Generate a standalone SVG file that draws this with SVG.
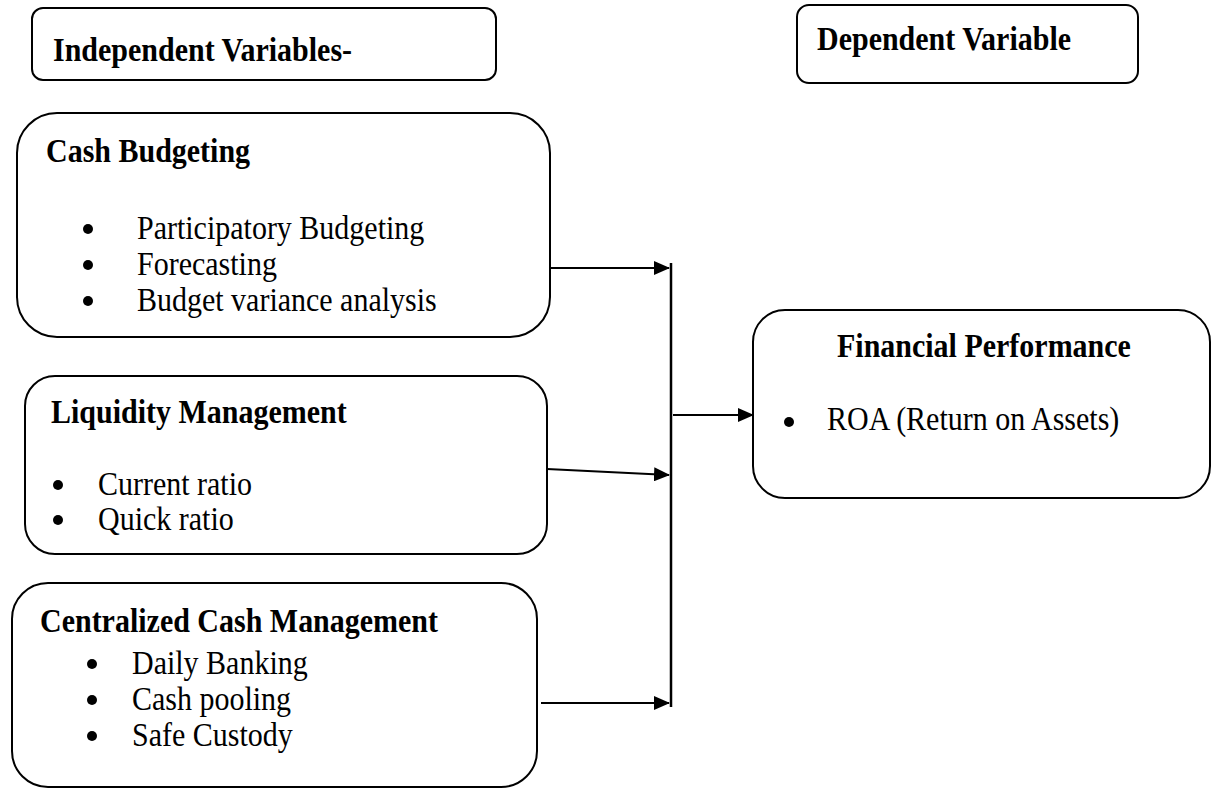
<svg xmlns="http://www.w3.org/2000/svg" width="1212" height="789" viewBox="0 0 1212 789">
<style>
.box{fill:#fff;stroke:#000;stroke-width:2}
.t{font-family:"Liberation Serif","Times New Roman",serif;font-size:30px;fill:#000}
.b{font-weight:bold}
.conn{stroke:#000;stroke-width:2.2;fill:none}
.dot{fill:#000}
</style>
<defs>
<marker id="arr" markerWidth="16" markerHeight="14" refX="15" refY="7" orient="auto" markerUnits="userSpaceOnUse">
<path d="M0,0 L16,7 L0,14 Z" fill="#000"/>
</marker>
</defs>
<rect width="1212" height="789" fill="#fff"/>
<g id="independent-header">
<rect class="box" x="32" y="8" width="464" height="72" rx="11"/>
<text class="t b" transform="translate(53,61) scale(1,1.09)">Independent Variables-</text>
</g>
<g id="dependent-header">
<rect class="box" x="797" y="5" width="341" height="78" rx="12"/>
<text class="t b" transform="translate(817,50) scale(1,1.09)">Dependent Variable</text>
</g>
<g id="cash-budgeting">
<rect class="box" x="17" y="113" width="533" height="224" rx="40"/>
<text class="t b" transform="translate(46,162) scale(1,1.09)">Cash Budgeting</text>
<circle class="dot" cx="88" cy="229" r="5"/>
<circle class="dot" cx="88" cy="265" r="5"/>
<circle class="dot" cx="88" cy="301" r="5"/>
<text class="t" transform="translate(137,239) scale(1,1.09)">Participatory Budgeting</text>
<text class="t" transform="translate(137,275) scale(1,1.09)">Forecasting</text>
<text class="t" transform="translate(137,311) scale(1,1.09)">Budget variance analysis</text>
</g>
<g id="liquidity-management">
<rect class="box" x="25" y="376" width="522" height="178" rx="30"/>
<text class="t b" transform="translate(51,423) scale(1,1.09)">Liquidity Management</text>
<circle class="dot" cx="58" cy="485" r="5"/>
<circle class="dot" cx="58" cy="520" r="5"/>
<text class="t" transform="translate(98,495) scale(1,1.09)">Current ratio</text>
<text class="t" transform="translate(98,530) scale(1,1.09)">Quick ratio</text>
</g>
<g id="centralized-cash-management">
<rect class="box" x="12" y="583" width="525" height="204" rx="36"/>
<text class="t b" transform="translate(40,632) scale(1,1.09)">Centralized Cash Management</text>
<circle class="dot" cx="92" cy="664" r="5"/>
<circle class="dot" cx="92" cy="700" r="5"/>
<circle class="dot" cx="92" cy="736" r="5"/>
<text class="t" transform="translate(132,674) scale(1,1.09)">Daily Banking</text>
<text class="t" transform="translate(132,710) scale(1,1.09)">Cash pooling</text>
<text class="t" transform="translate(132,746) scale(1,1.09)">Safe Custody</text>
</g>
<g id="financial-performance">
<rect class="box" x="753" y="310" width="457" height="188" rx="32"/>
<text class="t b" transform="translate(837,357) scale(1,1.09)">Financial Performance</text>
<circle class="dot" cx="789" cy="422" r="5"/>
<text class="t" transform="translate(827,430) scale(1,1.09)">ROA (Return on Assets)</text>
</g>
<g id="connectors">
<line class="conn" x1="671" y1="263" x2="671" y2="707" style="stroke-width:2.5"/>
<line class="conn" x1="550" y1="268" x2="669" y2="268" marker-end="url(#arr)"/>
<line class="conn" x1="547" y1="469" x2="669" y2="475" marker-end="url(#arr)"/>
<line class="conn" x1="541" y1="703" x2="669" y2="703" marker-end="url(#arr)"/>
<line class="conn" x1="673" y1="415" x2="753" y2="415" marker-end="url(#arr)"/>
</g>
</svg>
